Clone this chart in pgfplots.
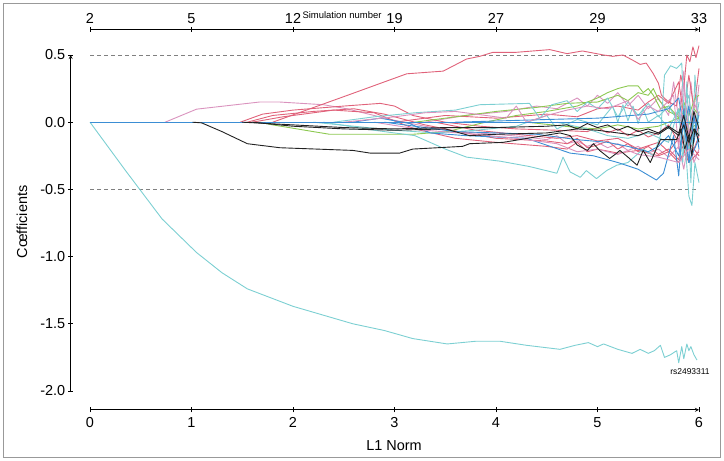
\documentclass[border=0pt]{standalone}
\usepackage{pgfplots}
\pgfplotsset{compat=1.18}
\usepackage{fontspec}
\setmainfont{Liberation Sans}
\definecolor{cR}{HTML}{E0627A}
\definecolor{cC}{HTML}{7CCFD2}
\definecolor{cG}{HTML}{8CC850}
\definecolor{cB}{HTML}{3B8ED4}
\definecolor{cP}{HTML}{DA93BE}
\definecolor{cK}{HTML}{222222}
\begin{document}
\begin{tikzpicture}[x=1bp,y=1bp]
\useasboundingbox (-90,-70) rectangle (634,391);
\draw[black!40, line width=0.8bp] (-87,-66) rectangle (630,388);
\pgfplotsset{base/.style={scale only axis, width=609bp, height=336bp, anchor=south west,
  xmin=0, xmax=6, ymin=-2, ymax=0.5, tick align=outside, major tick length=5bp,
  tick style={black, line width=0.8bp}, axis line style={black, line width=0.8bp,-},
  ticklabel style={font=\fontsize{14.5}{16}\selectfont}}}
\begin{axis}[base, at={(0,0)}, axis lines=none, clip=false,
  every axis plot/.append style={line width=0.9bp, line join=round}]
\addplot[gray, dash pattern=on 4bp off 3bp, line width=0.8bp] coordinates {(0,0.5)(6,0.5)};
\addplot[gray, dash pattern=on 4bp off 3bp, line width=0.8bp] coordinates {(0,-0.5)(6,-0.5)};
% big cyan rs2493311
\addplot[cC] coordinates {(0,0)(0.35,-0.36)(0.71,-0.72)(1.05,-0.97)(1.3,-1.12)(1.55,-1.24)(2.0,-1.37)(2.59,-1.50)(2.9,-1.55)(3.18,-1.61)(3.52,-1.65)(3.8,-1.63)(4.04,-1.63)(4.3,-1.66)(4.63,-1.69)(4.78,-1.66)(4.91,-1.64)(5.0,-1.67)(5.06,-1.65)(5.2,-1.69)(5.34,-1.72)(5.42,-1.69)(5.5,-1.72)(5.56,-1.70)(5.62,-1.66)(5.66,-1.75)(5.72,-1.73)(5.78,-1.70)(5.80,-1.79)(5.83,-1.67)(5.85,-1.76)(5.88,-1.65)(5.90,-1.70)(5.92,-1.67)(5.95,-1.73)(5.98,-1.77)};
% pink early
\addplot[cP] coordinates {(0.74,0)(1.05,0.097)(1.67,0.15)(1.87,0.15)(2.3,0.13)(2.53,0.10)(2.96,0.02)(3.3,-0.03)(3.6,-0.07)(4.0,-0.09)(4.3,-0.11)(4.5,-0.13)(4.6,-0.10)(4.7,-0.16)(4.8,-0.14)(4.9,-0.18)(5.0,-0.15)(5.1,-0.19)(5.2,-0.16)(5.3,-0.21)(5.4,-0.18)(5.5,-0.23)(5.6,-0.2)(5.7,-0.26)(5.8,-0.18)(5.85,-0.35)(5.9,-0.12)(5.95,-0.3)(6.0,-0.2)};
% pink upper
\addplot[cP] coordinates {(3.3,0)(3.7,0.05)(4.1,0.08)(4.4,0.12)(4.6,0.1)(4.8,0.18)(4.9,0.12)(5.0,0.2)(5.1,0.14)(5.2,0.22)(5.3,0.12)(5.4,0.2)(5.5,0.1)(5.6,0.18)(5.7,0.05)(5.75,0.3)(5.8,0.02)(5.85,0.38)(5.88,-0.1)(5.92,0.3)(5.96,0.0)(6.0,0.28)};
% red steep
\addplot[cR] coordinates {(1.80,0)(2.5,0.19)(3.12,0.36)(3.48,0.38)(3.71,0.47)(3.84,0.49)(3.97,0.52)(4.2,0.52)(4.53,0.54)(4.7,0.51)(4.85,0.53)(5.06,0.50)(5.15,0.49)(5.25,0.50)(5.35,0.46)(5.42,0.43)(5.48,0.44)(5.55,0.36)(5.6,0.29)(5.63,0.20)(5.7,0.15)(5.78,0.12)(5.82,0.35)(5.85,0.25)(5.88,0.50)(5.91,0.45)(5.94,0.56)(5.97,0.48)(6.0,0.57)};
\addplot[cR] coordinates {(1.48,0)(1.7,0.06)(2.0,0.09)(2.5,0.12)(2.86,0.14)(3.0,0.12)(3.18,0.05)(3.5,0.0)(3.84,-0.03)(4.2,-0.05)(4.6,-0.06)(4.9,-0.07)(5.0,-0.04)(5.1,-0.08)(5.2,-0.05)(5.3,-0.1)(5.4,-0.06)(5.5,-0.11)(5.6,-0.08)(5.7,-0.02)(5.8,-0.15)(5.85,0.1)(5.9,-0.2)(5.95,0.05)(6.0,-0.1)};
\addplot[cR] coordinates {(1.55,0)(1.8,0.05)(2.2,0.08)(2.6,0.1)(2.9,0.06)(3.3,-0.02)(3.7,-0.08)(4.0,-0.12)(4.5,-0.14)(4.7,-0.16)(4.8,-0.12)(4.9,-0.19)(5.0,-0.17)(5.1,-0.14)(5.2,-0.2)(5.3,-0.16)(5.4,-0.22)(5.5,-0.18)(5.6,-0.24)(5.7,-0.2)(5.8,-0.28)(5.85,-0.1)(5.9,-0.3)(6.0,-0.22)};
\addplot[cR] coordinates {(1.6,0)(1.9,0.04)(2.4,0.09)(2.8,0.07)(3.2,-0.05)(3.6,-0.12)(4.0,-0.15)(4.5,-0.18)(4.7,-0.2)(4.8,-0.15)(4.9,-0.22)(5.0,-0.2)(5.2,-0.23)(5.4,-0.21)(5.6,-0.25)(5.7,-0.22)(5.8,-0.3)(5.9,-0.15)(6.0,-0.25)};
\addplot[cR] coordinates {(3.0,0)(3.5,0.05)(4.0,0.03)(4.5,0.06)(4.8,0.04)(5.0,0.1)(5.2,0.12)(5.4,0.09)(5.5,0.15)(5.6,0.2)(5.7,0.14)(5.8,0.3)(5.85,0.05)(5.9,0.35)(5.95,0.1)(6.0,0.4)};
\addplot[cR] coordinates {(3.4,0)(3.8,-0.06)(4.2,-0.09)(4.6,-0.12)(4.8,-0.1)(5.0,-0.14)(5.2,-0.12)(5.4,-0.2)(5.6,-0.15)(5.7,-0.22)(5.8,-0.12)(5.9,-0.3)(6.0,-0.1)};
% greens
\addplot[cG] coordinates {(1.67,0)(1.8,-0.02)(2.36,-0.09)(2.76,-0.09)(3.18,-0.09)(3.52,-0.07)(3.84,-0.01)(4.2,0.05)(4.5,0.08)(4.8,0.12)(5.0,0.18)(5.1,0.22)(5.2,0.25)(5.3,0.27)(5.4,0.27)(5.45,0.22)(5.5,0.25)(5.55,0.20)(5.62,0.10)(5.7,0.12)(5.8,0.03)(5.85,0.08)(5.9,-0.02)(5.95,0.1)(6.0,0.05)};
\addplot[cG] coordinates {(3.2,0)(3.6,0.04)(4.0,0.08)(4.4,0.11)(4.7,0.14)(5.0,0.15)(5.2,0.2)(5.3,0.16)(5.4,0.22)(5.5,0.2)(5.55,0.25)(5.6,0.17)(5.7,0.08)(5.78,0.05)(5.85,0.15)(5.9,0.05)(5.96,0.18)(6.0,0.2)};
\addplot[cG] coordinates {(4.3,0)(4.8,-0.04)(5.0,-0.05)(5.2,-0.02)(5.4,-0.05)(5.6,-0.03)(5.8,0.03)(5.9,-0.06)(6.0,0.0)};
% cyans
\addplot[cC] coordinates {(2.3,0)(2.8,-0.06)(3.2,-0.10)(3.5,-0.20)(3.71,-0.26)(4.04,-0.29)(4.33,-0.33)(4.6,-0.38)(4.66,-0.26)(4.73,-0.37)(4.83,-0.41)(4.89,-0.36)(4.99,-0.42)(5.09,-0.36)(5.19,-0.32)(5.3,-0.3)(5.45,-0.2)(5.55,-0.25)(5.62,-0.1)(5.66,0.35)(5.72,0.42)(5.78,0.40)(5.83,0.44)(5.86,-0.1)(5.9,-0.55)(5.93,-0.62)(5.96,-0.3)(6.0,-0.45)};
\addplot[cC] coordinates {(2.4,0)(2.8,0.04)(3.2,0.07)(3.6,0.09)(3.84,0.13)(4.33,0.14)(4.43,0.03)(4.55,0.13)(4.7,0.16)(4.8,0.08)(4.9,0.15)(5.0,0.1)(5.1,0.18)(5.2,0.04)(5.3,0.15)(5.4,0.05)(5.5,0.14)(5.6,0.04)(5.7,0.12)(5.8,0.0)(5.9,0.2)(5.95,-0.1)(6.0,0.15)};
\addplot[cC] coordinates {(2.2,0)(2.6,-0.03)(3.0,-0.06)(3.4,-0.08)(3.8,-0.06)(4.2,-0.03)(4.5,0.05)(4.6,-0.05)(4.8,0.02)(5.0,-0.02)(5.15,0.12)(5.2,0.0)(5.25,0.13)(5.3,0.01)(5.35,0.12)(5.4,-0.01)(5.45,0.1)(5.5,0.0)(5.6,0.05)(5.7,-0.05)(5.8,0.1)(5.9,-0.2)(6.0,0.05)};
\addplot[cC] coordinates {(4.6,0)(4.9,-0.05)(5.1,-0.1)(5.3,-0.12)(5.5,-0.08)(5.7,-0.15)(5.8,0.1)(5.84,-0.3)(5.88,0.3)(5.92,-0.45)(5.96,0.35)(6.0,-0.1)};
% blues
\addplot[cB] coordinates {(2.59,0)(2.86,0.03)(3.15,-0.01)(3.35,-0.08)(3.7,-0.1)(4.0,-0.11)(4.3,-0.12)(4.73,-0.23)(4.96,-0.25)(5.2,-0.3)(5.4,-0.35)(5.58,-0.43)(5.65,-0.38)(5.75,-0.1)(5.8,-0.4)(5.85,0.1)(5.9,-0.3)(5.95,0.05)(6.0,-0.2)};
\addplot[cB] coordinates {(2.9,0)(3.2,-0.03)(3.6,-0.07)(4.0,-0.08)(4.4,-0.09)(4.8,-0.13)(5.1,-0.15)(5.3,-0.18)(5.5,-0.22)(5.6,-0.18)(5.7,-0.1)(5.8,-0.25)(5.85,0.0)(5.9,-0.3)(6.0,-0.12)};
\addplot[cB] coordinates {(3.6,0)(4.5,0.02)(5.0,0.03)(5.5,0.06)(5.7,0.1)(5.8,0.18)(5.85,-0.05)(5.9,0.12)(5.95,-0.15)(6.0,0.08)};
% pinks
\addplot[cP] coordinates {(2.5,0)(3.0,0.04)(3.3,0.07)(3.6,0.08)(3.9,0.05)(4.1,0.03)(4.2,0.12)(4.3,0.0)(4.5,0.05)(4.7,0.09)(4.9,0.12)(5.1,0.1)(5.3,0.16)(5.4,0.02)(5.5,0.12)(5.6,0.08)(5.75,0.2)(5.8,-0.2)(5.85,0.3)(5.9,-0.1)(5.95,0.15)(6.0,0.05)};
\addplot[cP] coordinates {(2.8,0)(3.3,-0.06)(3.8,-0.09)(4.2,-0.12)(4.6,-0.16)(4.8,-0.22)(5.0,-0.2)(5.2,-0.24)(5.3,-0.21)(5.4,-0.24)(5.6,-0.26)(5.8,-0.3)(5.9,-0.2)(6.0,-0.28)};
% zero line
\addplot[cB] coordinates {(0,0)(6,0)};
% blacks
\addplot[cK] coordinates {(1.01,0)(1.1,-0.005)(1.3,-0.07)(1.55,-0.16)(1.87,-0.19)(2.59,-0.21)(2.76,-0.23)(3.05,-0.23)(3.18,-0.20)(3.67,-0.18)(3.74,-0.16)(4.07,-0.15)(4.63,-0.08)(4.73,-0.10)(4.8,-0.17)(4.9,-0.21)(4.96,-0.16)(5.02,-0.21)(5.12,-0.27)(5.19,-0.23)(5.22,-0.21)(5.30,-0.26)(5.39,-0.32)(5.45,-0.21)(5.52,-0.30)(5.62,-0.13)(5.7,-0.13)(5.78,-0.13)(5.82,-0.05)(5.86,-0.2)(5.9,-0.1)(5.93,-0.25)(5.96,-0.05)(6.0,-0.15)};
\addplot[cK] coordinates {(1.5,0)(2.0,-0.02)(2.5,-0.04)(3.0,-0.05)(3.5,-0.04)(4.0,-0.04)(4.5,-0.03)(4.7,-0.02)(4.8,-0.05)(4.9,-0.01)(5.0,-0.04)(5.1,-0.02)(5.2,-0.06)(5.3,-0.03)(5.4,-0.07)(5.5,-0.05)(5.6,-0.08)(5.7,-0.03)(5.8,-0.08)(5.85,0.05)(5.9,-0.12)(5.95,0.08)(6.0,-0.05)};
\addplot[cK] coordinates {(1.6,0)(2.0,-0.03)(2.5,-0.05)(3.0,-0.06)(3.5,-0.05)(3.74,-0.10)(4.0,-0.09)(4.5,-0.08)(4.8,-0.05)(5.0,-0.06)(5.2,-0.08)(5.4,-0.1)(5.5,-0.07)(5.6,-0.09)(5.7,-0.04)(5.8,-0.1)(5.85,-0.02)(5.9,-0.15)(5.95,-0.05)(6.0,-0.1)};
\end{axis}
% bottom axis
\begin{axis}[base, at={(0,-14)}, axis x line=bottom, axis y line=none, ytick=\empty,
  xtick={0,1,2,3,4,5,6}, xticklabels={0,1,2,3,4,5,6},
  xticklabel style={yshift=-2bp}]
\end{axis}
% left axis
\begin{axis}[base, at={(-19,0)}, axis y line=left, axis x line=none, xtick=\empty,
  ytick={-2,-1.5,-1,-0.5,0,0.5}, yticklabels={-2.0,-1.5,-1.0,-0.5,0.0,0.5},
  yticklabel style={xshift=0.5bp}]
\end{axis}
% top axis
\begin{axis}[base, at={(0,19)}, axis x line=top, axis y line=none, ytick=\empty,
  xtick={0,1,2,3,4,5,6}, xticklabels={2,5,12,19,27,29,33}]
\end{axis}
\node[rotate=90, font=\fontsize{14.5}{16}\selectfont] at (-68,169) {Cœfficients};
\node[font=\fontsize{14.5}{16}\selectfont] at (304,-55) {L1 Norm};
\node[font=\fontsize{9.5}{11}\selectfont] at (252,376) {Simulation number};
\node[font=\fontsize{8.5}{10}\selectfont] at (600,19) {rs2493311};
\end{tikzpicture}
\end{document}
